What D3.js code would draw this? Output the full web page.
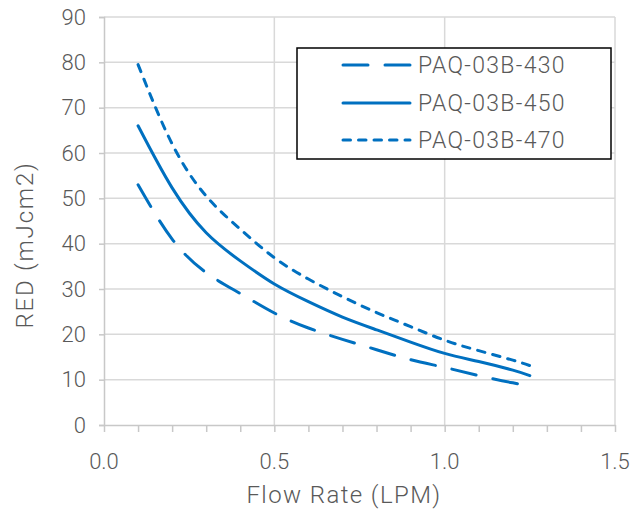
<!DOCTYPE html>
<html>
<head>
<meta charset="utf-8">
<script src="https://cdn.jsdelivr.net/npm/d3@7"></script>
<style>
  html, body { margin: 0; padding: 0; background: #fff; }
  svg { display: block; }
  text { font-family: "Roboto", "Liberation Sans", sans-serif; font-weight: 300; fill: #595959; }
</style>
</head>
<body>
<svg id="chart" width="631" height="514"></svg>
<script>
// Flow rate samples (LPM)
const flowRates = [0.1, 0.2, 0.3, 0.4, 0.5, 0.6, 0.7, 0.8, 0.9, 1.0, 1.1, 1.2, 1.25];

// RED (mJ/cm2) for each lamp model
const red430 = [53, 41, 33.6, 29.0, 24.7, 21.4, 18.9, 16.6, 14.4, 12.7, 10.9, 9.3, 8.7];
const red450 = [66, 52.3, 42.4, 36.2, 31.1, 27.2, 23.8, 21.0, 18.3, 15.8, 14.0, 12.1, 10.9];
const red470 = [79.5, 62, 50.5, 43.2, 36.9, 32.2, 28.3, 24.8, 21.7, 18.7, 16.4, 14.3, 13.1];

const seriesNames = ["PAQ-03B-430", "PAQ-03B-450", "PAQ-03B-470"];

const xTicks = [0, 0.5, 1.0, 1.5];
const xMinorTicks = d3.range(0, 16).map(i => i / 10);
const yTicks = d3.range(0, 100, 10);

const svg = d3.select("#chart");
const blue = "#0070C0";
const grid = "#d9d9d9";
const axisGrey = "#c8c8c8";

const x = d3.scaleLinear().domain([0, 1.5]).range([104, 615]);
const y = d3.scaleLinear().domain([0, 90]).range([425, 17]);

// horizontal gridlines
svg.append("g")
  .selectAll("line").data(yTicks.filter(v => v > 0)).join("line")
  .attr("x1", x(0)).attr("x2", x(1.5))
  .attr("y1", d => y(d)).attr("y2", d => y(d))
  .attr("stroke", grid).attr("stroke-width", 1.5);

// vertical gridlines
svg.append("g")
  .selectAll("line").data(xTicks.filter(v => v > 0)).join("line")
  .attr("x1", d => x(d)).attr("x2", d => x(d))
  .attr("y1", y(0)).attr("y2", y(90))
  .attr("stroke", grid).attr("stroke-width", 1.5);

// y axis
const yAxis = svg.append("g")
  .attr("transform", `translate(${x(0)},0)`)
  .call(d3.axisLeft(y).tickValues(yTicks).tickFormat(d3.format("d")).tickSize(5).tickPadding(13));
yAxis.attr("font-family", null).attr("font-size", null);
yAxis.select(".domain").attr("stroke", axisGrey).attr("stroke-width", 1.5);
yAxis.selectAll(".tick line").attr("stroke", axisGrey).attr("stroke-width", 1.5);
yAxis.selectAll(".tick text").attr("font-size", 22).attr("fill", "#595959");

// x axis: minor ticks every 0.1, labels every 0.5
const xAxis = svg.append("g")
  .attr("transform", `translate(0,${y(0)})`)
  .call(d3.axisBottom(x).tickValues(xMinorTicks).tickFormat("").tickSize(7).tickSizeOuter(0));
xAxis.attr("font-family", null).attr("font-size", null);
xAxis.select(".domain").attr("stroke", axisGrey).attr("stroke-width", 1.5);
xAxis.selectAll(".tick line").attr("stroke", axisGrey).attr("stroke-width", 1.5);

svg.append("g")
  .selectAll("text").data(xTicks).join("text")
  .attr("x", d => x(d)).attr("y", 469)
  .attr("text-anchor", "middle")
  .attr("font-size", 22)
  .text(d3.format(".1f"));

// axis titles
svg.append("text")
  .attr("x", 344).attr("y", 503)
  .attr("text-anchor", "middle")
  .attr("font-size", 24)
  .attr("letter-spacing", 1.4)
  .text("Flow Rate (LPM)");

svg.append("text")
  .attr("transform", "translate(33,245) rotate(-90)")
  .attr("text-anchor", "middle")
  .attr("font-size", 24)
  .attr("letter-spacing", 1.8)
  .text("RED (mJcm2)");

// series lines
const styles = [
  { values: red430, dash: "25,17" },
  { values: red450, dash: null },
  { values: red470, dash: "7.5,8" }
];

const line = d3.line()
  .x(d => x(d[0]))
  .y(d => y(d[1]))
  .curve(d3.curveNatural);

svg.append("g")
  .selectAll("path").data(styles).join("path")
  .attr("d", s => line(flowRates.map((f, i) => [f, s.values[i]])))
  .attr("fill", "none")
  .attr("stroke", blue)
  .attr("stroke-width", 3)
  .attr("stroke-linecap", "round")
  .attr("stroke-dasharray", s => s.dash);

// legend
const legend = svg.append("g");
legend.append("rect")
  .attr("x", 297).attr("y", 48).attr("width", 314).attr("height", 111)
  .attr("fill", "#fff").attr("stroke", "#000").attr("stroke-width", 1.5);

const rowY = [65, 103, 140];
const rows = legend.selectAll("g.row").data(styles).join("g").attr("class", "row");
rows.append("line")
  .attr("x1", 343).attr("x2", 410)
  .attr("y1", (d, i) => rowY[i]).attr("y2", (d, i) => rowY[i])
  .attr("stroke", blue).attr("stroke-width", 3)
  .attr("stroke-linecap", "round")
  .attr("stroke-dasharray", d => d.dash);
rows.append("text")
  .attr("x", 418)
  .attr("y", (d, i) => rowY[i])
  .attr("dy", "0.36em")
  .attr("font-size", 23)
  .attr("letter-spacing", 1.3)
  .text((d, i) => seriesNames[i]);
</script>
</body>
</html>
